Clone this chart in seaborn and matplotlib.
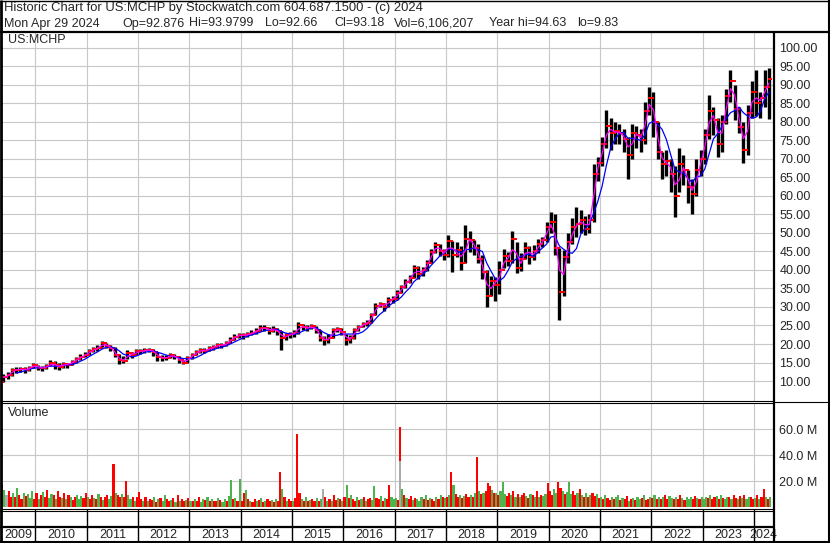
import numpy as np
import pandas as pd
import matplotlib
matplotlib.use("Agg")
import matplotlib.pyplot as plt
import seaborn as sns

# monthly bars, May 2009 .. Apr 2024 (close / high / low)
close_2009 = [11.0, 11.6, 13.0, 13.0, 13.3, 12.9, 13.6, 14.4]
high_2009 = [11.8, 12.4, 13.6, 13.8, 13.9, 13.8, 14.1, 14.8]
low_2009 = [9.8, 10.6, 11.4, 12.3, 12.5, 12.1, 12.7, 13.5]

close_2010 = [13.6, 13.4, 14.0, 14.8, 14.2, 13.8, 14.6, 14.4, 15.2, 15.9, 16.6, 17.1]
high_2010 = [14.4, 14.0, 14.6, 15.6, 15.3, 14.8, 15.2, 15.0, 15.8, 16.4, 17.2, 17.8]
low_2010 = [12.9, 12.8, 13.3, 14.0, 13.2, 13.1, 13.6, 13.6, 14.3, 15.0, 15.8, 16.4]

close_2011 = [18.0, 18.6, 19.0, 20.2, 19.5, 18.9, 17.0, 15.6, 15.5, 17.5, 17.0, 18.0]
high_2011 = [18.6, 19.2, 19.6, 20.9, 20.4, 19.7, 19.2, 17.2, 16.8, 18.3, 17.9, 18.6]
low_2011 = [17.0, 17.9, 18.2, 19.2, 18.8, 18.0, 16.5, 14.6, 14.8, 15.9, 16.2, 17.0]

close_2012 = [18.0, 18.3, 18.5, 17.8, 16.4, 16.2, 16.3, 17.0, 16.5, 15.6, 15.0, 16.1]
high_2012 = [18.6, 18.9, 19.0, 18.7, 17.8, 16.9, 17.0, 17.6, 17.3, 16.8, 15.8, 16.7]
low_2012 = [17.2, 17.6, 17.8, 16.8, 15.4, 15.4, 15.6, 16.3, 15.9, 14.9, 14.5, 15.0]

close_2013 = [17.0, 17.8, 18.3, 18.2, 18.8, 19.2, 19.7, 19.6, 20.2, 21.2, 22.0, 22.4]
high_2013 = [17.6, 18.4, 18.9, 18.9, 19.4, 19.8, 20.3, 20.2, 20.8, 21.8, 22.6, 23.0]
low_2013 = [16.0, 17.0, 17.6, 17.5, 18.0, 18.4, 19.0, 19.0, 19.4, 20.2, 21.2, 21.6]

close_2014 = [22.3, 22.6, 23.0, 23.6, 24.3, 24.4, 23.6, 24.0, 23.4, 21.5, 22.3, 22.6]
high_2014 = [23.1, 23.3, 23.8, 24.4, 25.0, 25.1, 24.7, 24.8, 24.4, 23.4, 22.9, 23.2]
low_2014 = [21.4, 21.8, 22.3, 22.8, 23.5, 23.6, 22.8, 23.2, 22.3, 18.4, 21.2, 21.7]

close_2015 = [23.0, 25.0, 24.5, 24.3, 24.8, 23.7, 21.5, 21.0, 21.6, 23.7, 24.0, 23.2]
high_2015 = [23.8, 25.9, 25.5, 25.1, 25.5, 24.8, 23.9, 22.2, 22.6, 24.3, 24.6, 24.2]
low_2015 = [21.9, 22.8, 23.8, 23.5, 24.0, 23.0, 20.8, 19.7, 20.4, 21.6, 23.2, 22.4]

close_2016 = [21.0, 21.5, 23.8, 24.5, 25.5, 25.6, 27.8, 30.3, 30.8, 30.0, 32.0, 32.1]
high_2016 = [22.6, 22.3, 24.2, 25.2, 26.0, 26.5, 28.4, 31.0, 31.4, 31.0, 32.8, 33.0]
low_2016 = [19.7, 20.2, 21.4, 23.6, 24.5, 24.8, 25.6, 27.8, 29.9, 29.0, 30.0, 31.2]

close_2017 = [33.8, 35.3, 36.8, 37.8, 40.5, 38.8, 40.0, 42.0, 44.8, 46.8, 45.0, 44.0]
high_2017 = [34.7, 36.0, 37.5, 38.6, 41.3, 41.0, 40.8, 42.8, 45.6, 47.6, 47.0, 45.8]
low_2017 = [32.0, 33.8, 35.0, 36.6, 37.8, 37.5, 38.4, 39.8, 41.8, 44.5, 43.8, 42.8]

close_2018 = [47.8, 44.0, 45.5, 41.8, 48.5, 48.0, 46.0, 43.0, 39.5, 33.0, 37.0, 36.0]
high_2018 = [49.5, 47.8, 47.5, 46.5, 52.2, 50.5, 48.2, 47.0, 44.0, 40.0, 38.5, 38.0]
low_2018 = [43.5, 39.5, 43.5, 40.0, 42.0, 44.8, 44.0, 42.0, 37.5, 30.1, 33.0, 31.5]

close_2019 = [40.0, 43.8, 42.5, 48.5, 40.5, 43.0, 46.0, 43.5, 45.0, 47.0, 48.0, 51.5]
high_2019 = [42.5, 45.8, 44.8, 50.4, 47.5, 44.5, 47.5, 46.5, 46.8, 48.5, 49.0, 53.0]
low_2019 = [33.5, 40.5, 41.0, 42.0, 39.3, 39.8, 43.0, 41.5, 42.8, 44.5, 46.2, 47.5]

close_2020 = [53.0, 46.0, 34.0, 43.5, 47.5, 51.5, 52.5, 53.5, 51.0, 53.5, 66.0, 69.0]
high_2020 = [55.7, 55.0, 46.0, 45.5, 50.0, 54.0, 57.0, 56.2, 54.5, 55.0, 68.5, 70.6]
low_2020 = [50.0, 44.0, 26.5, 33.0, 42.0, 47.0, 49.0, 50.0, 49.5, 50.0, 53.0, 64.0]

close_2021 = [74.0, 79.0, 77.0, 77.5, 77.0, 75.5, 71.0, 77.0, 76.5, 75.0, 83.0, 86.5]
high_2021 = [76.0, 83.2, 81.0, 80.0, 79.5, 78.0, 76.0, 79.5, 79.0, 78.0, 85.5, 89.5]
low_2021 = [68.0, 73.0, 72.5, 74.0, 74.0, 72.0, 64.6, 70.0, 73.0, 72.0, 74.0, 82.0]

close_2022 = [80.0, 72.0, 68.5, 69.5, 66.0, 60.0, 68.5, 67.0, 62.5, 60.5, 67.0, 70.0]
high_2022 = [88.0, 80.0, 72.0, 72.5, 70.0, 68.0, 72.9, 71.0, 67.0, 64.5, 70.0, 72.5]
low_2022 = [76.0, 70.0, 64.6, 65.5, 61.0, 54.4, 61.0, 63.0, 58.0, 55.1, 60.0, 65.5]

close_2023 = [76.5, 83.0, 80.5, 74.0, 80.0, 87.0, 91.0, 83.5, 78.5, 72.5, 82.5, 88.0]
high_2023 = [78.0, 87.3, 84.0, 81.0, 82.0, 89.0, 94.1, 90.0, 84.0, 80.0, 84.5, 91.0]
low_2023 = [68.5, 75.5, 76.5, 70.6, 72.0, 79.5, 85.5, 80.5, 77.0, 68.8, 71.0, 81.0]

close_2024 = [85.0, 86.5, 89.5, 91.5]
high_2024 = [94.1, 88.0, 94.1, 94.6]
low_2024 = [81.5, 81.0, 84.0, 80.9]

# half-monthly volume (millions) and up/down colour code (r=down, g=up, a=unchanged)
vol_2009 = [18.0, 13.0, 9.0, 12.5, 8.0, 11.0, 7.5, 14.5, 9.0, 6.0, 11.0, 8.5, 10.0, 7.0, 12.0, 6.5]
vol_2010 = [10.5, 6.0, 9.0, 11.5, 8.0, 13.0, 7.0, 10.0, 9.5, 6.5, 12.0, 8.0, 7.0, 10.5, 6.0, 9.0, 8.0, 5.5, 7.5, 9.0, 6.0, 8.5, 7.0, 11.0]
vol_2011 = [8.0, 6.5, 9.5, 7.0, 6.0, 10.0, 8.0, 5.5, 7.5, 9.0, 6.0, 8.5, 33.0, 11.0, 9.0, 7.5, 10.0, 8.0, 20.0, 9.0, 6.0, 7.5, 5.0, 8.0]
vol_2012 = [11.5, 6.0, 5.0, 7.5, 4.5, 6.5, 5.5, 8.0, 4.0, 6.0, 7.0, 5.0, 9.5, 6.0, 4.5, 5.5, 7.0, 4.0, 9.0, 5.0, 6.0, 4.5, 5.5, 7.0]
vol_2013 = [5.0, 4.5, 6.5, 5.0, 8.0, 4.0, 6.0, 5.5, 7.5, 4.5, 6.0, 5.0, 4.5, 7.0, 5.5, 4.0, 6.0, 5.0, 8.5, 20.8, 6.0, 7.0, 5.0, 21.5]
vol_2014 = [4.5, 10.5, 13.0, 6.0, 5.0, 4.0, 6.5, 4.5, 5.5, 7.0, 4.0, 5.0, 6.0, 4.5, 5.5, 4.0, 6.0, 5.0, 27.2, 14.0, 8.0, 5.0, 6.0, 4.5]
vol_2015 = [5.0, 7.0, 56.2, 10.5, 6.0, 5.0, 7.5, 4.5, 5.5, 6.0, 4.5, 7.0, 5.0, 6.5, 13.8, 8.0, 5.0, 6.5, 4.5, 9.0, 5.5, 7.0, 6.0, 4.5]
vol_2016 = [8.0, 16.9, 7.0, 9.5, 6.0, 5.0, 7.5, 5.5, 6.0, 8.0, 5.0, 6.5, 7.0, 5.5, 16.4, 7.0, 6.0, 8.5, 5.0, 7.0, 6.0, 16.9, 8.0, 6.5]
vol_2017 = [7.0, 5.5, 61.3, 14.0, 9.0, 7.0, 6.0, 8.5, 5.5, 7.0, 6.5, 5.0, 8.0, 6.0, 9.0, 5.5, 7.0, 6.5, 5.0, 7.5, 6.0, 9.0, 8.0, 7.0]
vol_2018 = [7.5, 9.0, 26.7, 16.7, 10.0, 8.0, 9.5, 7.0, 8.5, 10.0, 7.5, 9.0, 8.0, 10.5, 38.5, 12.0, 10.0, 11.0, 12.5, 18.5, 16.0, 13.0, 10.5, 11.0]
vol_2019 = [9.5, 12.0, 19.5, 10.0, 8.5, 11.0, 9.0, 12.5, 8.0, 10.0, 7.5, 9.0, 11.0, 8.5, 7.0, 10.0, 9.5, 8.0, 12.0, 7.5, 9.0, 8.5, 10.0, 18.5]
vol_2020 = [12.0, 9.5, 14.0, 11.0, 19.5, 15.0, 12.0, 10.0, 11.5, 19.5, 10.0, 12.5, 9.0, 11.0, 13.8, 9.5, 8.0, 10.5, 7.5, 9.0, 11.0, 8.5, 10.0, 7.0]
vol_2021 = [8.0, 6.5, 9.5, 7.0, 5.5, 8.0, 6.0, 7.5, 9.0, 5.5, 7.0, 6.0, 8.5, 5.0, 6.5, 7.0, 5.5, 8.0, 6.0, 7.0, 9.0, 5.5, 6.5, 8.0]
vol_2022 = [7.0, 9.5, 6.5, 8.0, 6.0, 7.5, 9.0, 6.0, 8.5, 7.0, 6.5, 8.0, 6.0, 9.0, 7.0, 5.5, 8.0, 6.5, 7.5, 6.0, 8.5, 7.0, 6.0, 7.5]
vol_2023 = [6.5, 8.0, 7.0, 9.5, 6.0, 7.5, 8.5, 6.0, 9.0, 7.0, 6.5, 8.0, 7.5, 6.0, 9.5, 7.0, 6.0, 8.5, 7.0, 9.0, 6.5, 7.5, 8.0, 6.0]
vol_2024 = [7.0, 9.0, 6.5, 8.0, 13.8, 7.5, 6.0, 8.0]

dir_2009 = "rgarrgrgrrgrgggr"
dir_2010 = "rgrgrrggrgrrgrgrgrrgggrr"
dir_2011 = "grrgrgrgrrggrgrrgrrggrgr"
dir_2012 = "rrgrgrrgrgrggrrgrgrgrrgr"
dir_2013 = "grgrrggrgrgrrgrggrggrgrg"
dir_2014 = "rrgrgrrgrgrgrrgrgrrgrgrr"
dir_2015 = "grrrgrgrgrrgrgargrgrrgrg"
dir_2016 = "rgrgrrgrgrgrrggrrgrgrrgg"
dir_2017 = "grrgrgrrgrgggrgrgrrgrgrg"
dir_2018 = "rgrgrrgrgrrgrgrgrgrrrgrg"
dir_2019 = "rgggrrgrgrgrrgrgrgrgrggr"
dir_2020 = "rrggrrgrgggrrgrgrgrgrrgr"
dir_2021 = "grgrrgrggrgrrgrgrggrgrrg"
dir_2022 = "rgrgrgrrggrgrrgrgggrrgrg"
dir_2023 = "ggrgrrgrgrggrgrrgrgrggrr"
dir_2024 = "grgrrgrg"

# the big early-2017 bar is part unchanged (grey) below its red top
grey_under_index = [186]
grey_under_value = [35.4]

price_ticks = list(range(10, 101, 5))
vol_ticks = [20, 40, 60]
years = list(range(2009, 2025))

header_1 = "Historic Chart for US:MCHP by Stockwatch.com 604.687.1500 - (c) 2024"
header_2 = [("Mon Apr 29 2024", 4), ("Op=92.876", 122), ("Hi=93.9799", 189), ("Lo=92.66", 265),
            ("Cl=93.18", 334), ("Vol=6,106,207", 394), ("Year hi=94.63", 489), ("lo=9.83", 577)]

# ---------------------------------------------------------------
closes = sum([close_2009, close_2010, close_2011, close_2012, close_2013, close_2014, close_2015, close_2016,
              close_2017, close_2018, close_2019, close_2020, close_2021, close_2022, close_2023, close_2024], [])
highs = sum([high_2009, high_2010, high_2011, high_2012, high_2013, high_2014, high_2015, high_2016,
             high_2017, high_2018, high_2019, high_2020, high_2021, high_2022, high_2023, high_2024], [])
lows = sum([low_2009, low_2010, low_2011, low_2012, low_2013, low_2014, low_2015, low_2016,
            low_2017, low_2018, low_2019, low_2020, low_2021, low_2022, low_2023, low_2024], [])
vols = sum([vol_2009, vol_2010, vol_2011, vol_2012, vol_2013, vol_2014, vol_2015, vol_2016,
            vol_2017, vol_2018, vol_2019, vol_2020, vol_2021, vol_2022, vol_2023, vol_2024], [])
dirs = "".join([dir_2009, dir_2010, dir_2011, dir_2012, dir_2013, dir_2014, dir_2015, dir_2016,
                dir_2017, dir_2018, dir_2019, dir_2020, dir_2021, dir_2022, dir_2023, dir_2024])

months = pd.period_range("2009-05", "2024-04", freq="M")
px = pd.DataFrame({"t": months.year + (months.month - 0.5) / 12,
                   "close": closes, "high": highs, "low": lows})
px["open"] = px["close"].shift(1).fillna(px["low"])
px["ma_fast"] = px["close"].rolling(2, min_periods=1).mean()
px["ma_slow"] = px["close"].rolling(5, min_periods=4).mean()

t0 = 2009 + 4 / 12
vol = pd.DataFrame({"t": t0 + (np.arange(len(vols)) + 0.5) / 24, "v": vols, "d": list(dirs)})
col_map = {"r": "#ff0000", "g": "#4db34d", "a": "#aaaaaa"}

sns.set_style("white")
plt.rcParams["font.family"] = ["Liberation Sans", "DejaVu Sans"]

W, H = 830, 543
fig = plt.figure(figsize=(W / 100, H / 100), dpi=100)


def rect(x0, y0, x1, y1):
    return [x0 / W, 1 - y1 / H, (x1 - x0) / W, (y1 - y0) / H]


XL = (2009.330, 2024.370)
GRID = dict(color="#c8c8c8", linewidth=0.8)

# price panel
ax = fig.add_axes(rect(1, 32, 773, 401))
ax.set_xlim(*XL)
ax.set_ylim(4.6, 104.3)
ax.set_xticks(years[1:])
ax.set_yticks(price_ticks)
ax.grid(True, **GRID)
ax.set_axisbelow(True)
ax.vlines(px["t"], px["low"], px["high"], color="black", linewidth=2.4, zorder=2)
ax.plot(px["t"] + 0.022, px["close"], linestyle="none", marker="_", color="red",
        markersize=2.6, markeredgewidth=1.4, zorder=3)
ax.plot(px["t"] - 0.022, px["open"], linestyle="none", marker="_", color="red",
        markersize=2.6, markeredgewidth=1.4, zorder=3)
sns.lineplot(data=px, x="t", y="ma_slow", ax=ax, color="#0000ff", linewidth=0.9,
             estimator=None, sort=False, zorder=4)
sns.lineplot(data=px, x="t", y="ma_fast", ax=ax, color="#ff00ff", linewidth=0.9,
             estimator=None, sort=False, zorder=5)
ax.yaxis.tick_right()
ax.set_yticklabels([f"{v:.2f}" for v in price_ticks])
ax.tick_params(axis="y", length=0, pad=4.5, labelsize=9)
ax.tick_params(axis="x", length=0, labelbottom=False)
ax.set_xlabel("")
ax.set_ylabel("")
for s in ax.spines.values():
    s.set_visible(False)
ax.text(0.009, 0.977, "US:MCHP", transform=ax.transAxes, fontsize=9, va="center")

# volume panel
axv = fig.add_axes(rect(1, 403, 773, 507))
axv.set_xlim(*XL)
axv.set_ylim(0, 80)
axv.set_xticks(years[1:])
axv.set_yticks(vol_ticks)
axv.grid(True, **GRID)
axv.set_axisbelow(True)
axv.bar(vol["t"], vol["v"], width=1 / 24, color=[col_map[d] for d in vol["d"]],
        linewidth=0, zorder=2)
axv.bar(vol["t"].iloc[grey_under_index], grey_under_value, width=1 / 24,
        color=col_map["a"], linewidth=0, zorder=3)
axv.yaxis.tick_right()
axv.set_yticklabels([f"{v:.1f} M" for v in vol_ticks])
axv.tick_params(axis="y", length=0, pad=4.5, labelsize=9)
axv.tick_params(axis="x", length=0, labelbottom=False)
for s in axv.spines.values():
    s.set_visible(False)
axv.text(0.009, 0.9, "Volume", transform=axv.transAxes, fontsize=9, va="center")

# date strip
axd = fig.add_axes(rect(1, 510, 773, 542))
axd.set_xlim(*XL)
axd.set_ylim(0, 1)
axd.axis("off")
for y in years:
    if y > XL[0]:
        axd.axvline(y, color="black", linewidth=1.0)
    a, b = max(y, XL[0]), min(y + 1, XL[1])
    axd.text((a + b) / 2, 0.23, str(y), ha="center", va="center", fontsize=9)

# frame lines in pixel space
ov = fig.add_axes([0, 0, 1, 1], zorder=10)
ov.set_xlim(0, W)
ov.set_ylim(H, 0)
ov.axis("off")
ov.patch.set_alpha(0)
k = dict(color="black", solid_capstyle="butt")
ov.plot([0, W], [0.5, 0.5], linewidth=1.0, **k)
ov.plot([0.8, 0.8], [0, H], linewidth=2.0, **k)
ov.plot([W - 1, W - 1], [0, H], linewidth=1.5, **k)
ov.plot([0, W], [H - 1, H - 1], linewidth=1.5, **k)
ov.plot([0, W], [31.5, 31.5], linewidth=1.6, **k)
ov.plot([773.5, 773.5], [31, H], linewidth=1.6, **k)
ov.plot([0, 773], [401, 401], linewidth=0.8, **k)
ov.plot([0, 773], [403.3, 403.3], linewidth=0.8, **k)
ov.plot([773, W], [401.5, 401.5], linewidth=0.8, **k)
ov.plot([0, 773], [508.5, 508.5], linewidth=0.8, **k)
ov.plot([0, 773], [510.8, 510.8], linewidth=0.8, **k)
ov.plot([0, 773], [526.8, 526.8], linewidth=1.6, **k)

ov.text(4, 8, header_1, fontsize=9.4, va="center")
for txt, xpos in header_2:
    ov.text(xpos, 23.5, txt, fontsize=9, va="center")

fig.savefig("out.png", dpi=100)
